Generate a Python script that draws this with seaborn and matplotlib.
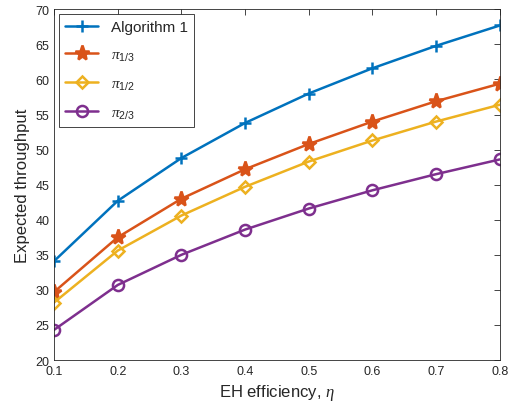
import matplotlib
matplotlib.use("Agg")
import matplotlib.pyplot as plt
import seaborn as sns
import pandas as pd

# data
eta = [0.1, 0.2, 0.3, 0.4, 0.5, 0.6, 0.7, 0.8]
alg1 = [34.1, 42.7, 48.8, 53.8, 58.0, 61.6, 64.8, 67.7]
pi_13 = [29.7, 37.5, 43.0, 47.2, 50.8, 54.0, 56.9, 59.4]
pi_12 = [28.2, 35.6, 40.6, 44.7, 48.3, 51.3, 54.0, 56.4]
pi_23 = [24.3, 30.7, 35.0, 38.6, 41.6, 44.2, 46.5, 48.6]

labels = ["Algorithm 1", r"$\pi_{\mathrm{1/3}}$", r"$\pi_{\mathrm{1/2}}$", r"$\pi_{\mathrm{2/3}}$"]
series = [alg1, pi_13, pi_12, pi_23]
colors = ["#0072BD", "#D95319", "#EDB120", "#7E2F8E"]
markers = ["+", "*", "D", "o"]
msizes = [9, 11, 6, 8]

sns.set_style("white")
plt.rcParams["font.family"] = ["Liberation Sans", "DejaVu Sans"]
plt.rcParams["mathtext.fontset"] = "custom"
plt.rcParams["mathtext.rm"] = "Liberation Sans"
plt.rcParams["mathtext.it"] = "Liberation Serif:italic"

fig, ax = plt.subplots(figsize=(5.1, 4.14), dpi=100)
fig.subplots_adjust(left=0.106, right=0.98, top=0.975, bottom=0.128)

for lab, vals, c, m, ms in zip(labels, series, colors, markers, msizes):
    df = pd.DataFrame({"eta": eta, "val": vals})
    sns.lineplot(data=df, x="eta", y="val", ax=ax, color=c, marker=m,
                 markersize=ms, linewidth=1.8, label=lab,
                 markerfacecolor=c if m == "*" else "none",
                 markeredgecolor=c, markeredgewidth=1.8)

ax.set_xlim(0.1, 0.8)
ax.set_ylim(20, 70)
ax.set_xticks(eta)
ax.set_yticks(range(20, 71, 5))
ax.set_xlabel(r"EH efficiency, $\eta$", fontsize=12)
ax.set_ylabel("Expected throughput", fontsize=12)
ax.tick_params(direction="in", top=True, right=True, length=4, width=0.6,
               labelsize=9, colors="#262626")
for s in ax.spines.values():
    s.set_color("#262626")
    s.set_linewidth(0.6)

leg = ax.legend(loc="upper left", fontsize=11, frameon=True, fancybox=False,
                edgecolor="#262626", framealpha=1, borderaxespad=0.3,
                handlelength=2.2, labelspacing=0.9)
leg.get_frame().set_linewidth(0.6)

fig.savefig("out.png", dpi=100)
